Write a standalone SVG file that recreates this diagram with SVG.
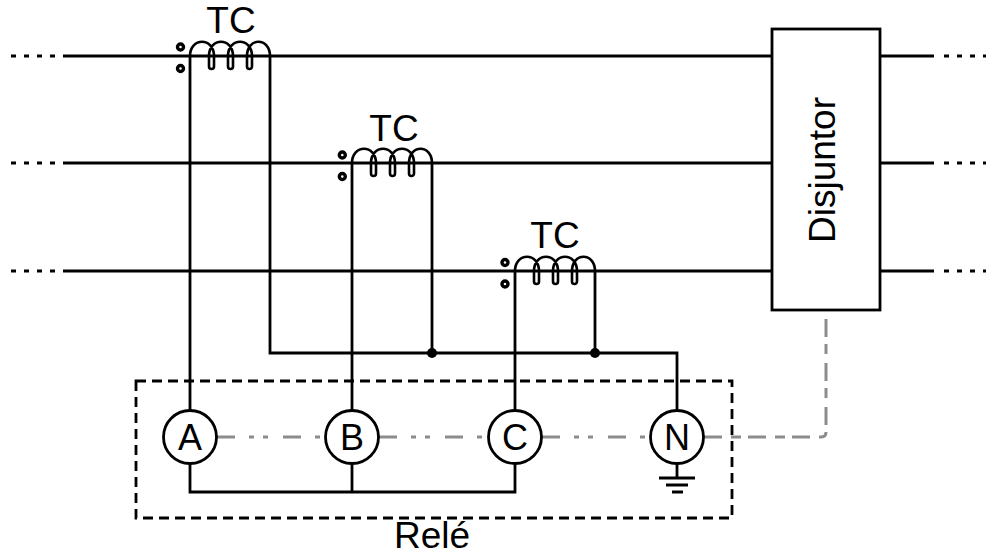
<svg xmlns="http://www.w3.org/2000/svg" width="986" height="557" viewBox="0 0 986 557">
<defs>
<style>
.w{stroke:#000;stroke-width:2.8;fill:none;stroke-linecap:butt}
.dl{stroke:#000;stroke-width:2.8;fill:none;stroke-dasharray:5 8}
.coil{stroke:#000;stroke-width:2.6;fill:none}
.dot{fill:#fff;stroke:#000;stroke-width:3.4}
.jn{fill:#000}
.meter{fill:#fff;stroke:#000;stroke-width:2.8}
.gdd{stroke:#8c8c8c;stroke-width:3;fill:none;stroke-dasharray:18 14 5 9 5 15}
.gd{stroke:#8c8c8c;stroke-width:3;fill:none;stroke-dasharray:18 9 10 7}
.box{stroke:#000;stroke-width:2.8;fill:none;stroke-dasharray:10 6}
.t{font-family:"Liberation Sans",Arial,sans-serif;font-size:37px;fill:#000;text-anchor:middle}
.ml{font-family:"Liberation Sans",Arial,sans-serif;font-size:36px;fill:#000;text-anchor:middle}
</style>
<path id="coilshape" d="M0,0 C0,-19 24,-19 24,0 L24,10.5 A2.5,2.5 0 0 1 19,10.5 L19,0 C19,-19 43,-19 43,0 L43,10.5 A2.5,2.5 0 0 1 38,10.5 L38,0 C38,-19 62,-19 62,0 L62,10.5 A2.5,2.5 0 0 1 57,10.5 L57,0 C57,-19 80,-19 80,0"/>
</defs>
<rect width="986" height="557" fill="#fff"/>

<g id="connectors">
  <line class="dl" x1="11" y1="56" x2="58" y2="56"/>
  <line class="dl" x1="11" y1="163" x2="58" y2="163"/>
  <line class="dl" x1="11" y1="271" x2="58" y2="271"/>
  <line class="w" x1="63" y1="56" x2="772" y2="56"/>
  <line class="w" x1="63" y1="163" x2="772" y2="163"/>
  <line class="w" x1="63" y1="271" x2="772" y2="271"/>
  <line class="w" x1="880" y1="56" x2="934" y2="56"/>
  <line class="w" x1="880" y1="163" x2="934" y2="163"/>
  <line class="w" x1="880" y1="271" x2="934" y2="271"/>
  <line class="dl" x1="944" y1="56" x2="986" y2="56"/>
  <line class="dl" x1="944" y1="163" x2="986" y2="163"/>
  <line class="dl" x1="944" y1="271" x2="986" y2="271"/>
  <line class="w" x1="190" y1="56" x2="190" y2="411"/>
  <line class="w" x1="352" y1="163" x2="352" y2="411"/>
  <line class="w" x1="515" y1="271" x2="515" y2="411"/>
  <polyline class="w" points="270,56 270,353 677,353 677,411"/>
  <line class="w" x1="432" y1="163" x2="432" y2="353"/>
  <line class="w" x1="595" y1="271" x2="595" y2="353"/>
  <circle class="jn" cx="432" cy="353" r="5"/>
  <circle class="jn" cx="595" cy="353" r="5"/>
  <polyline class="w" points="190,463 190,492 515,492 515,463"/>
  <line class="w" x1="352" y1="463" x2="352" y2="492"/>
  <line class="w" x1="677" y1="463" x2="677" y2="478"/>
  <line class="w" x1="659" y1="478" x2="695" y2="478" style="stroke-width:3"/>
  <line class="w" x1="666" y1="485" x2="688" y2="485" style="stroke-width:3"/>
  <line class="w" x1="672" y1="492" x2="683" y2="492" style="stroke-width:3"/>
  <line class="gdd" x1="217" y1="437" x2="325" y2="437"/>
  <line class="gdd" x1="379" y1="437" x2="488" y2="437"/>
  <line class="gdd" x1="542" y1="437" x2="650" y2="437"/>
  <path class="gd" d="M704,437 L821,437 Q826,437 826,432 L826,312"/>
</g>

<g id="relay-box">
  <rect class="box" x="136" y="381" width="596" height="137"/>
  <text class="t" x="432" y="548">Relé</text>
</g>

<g id="ct-a">
  <use href="#coilshape" class="coil" transform="translate(190,56)"/>
  <circle class="dot" cx="180.5" cy="47" r="3"/>
  <circle class="dot" cx="180.5" cy="68.5" r="3"/>
  <text class="t" x="231" y="33">TC</text>
</g>
<g id="ct-b">
  <use href="#coilshape" class="coil" transform="translate(352,163)"/>
  <circle class="dot" cx="342.3" cy="155" r="3"/>
  <circle class="dot" cx="342.3" cy="176.5" r="3"/>
  <text class="t" x="394" y="141">TC</text>
</g>
<g id="ct-c">
  <use href="#coilshape" class="coil" transform="translate(515,271)"/>
  <circle class="dot" cx="505" cy="262.5" r="3"/>
  <circle class="dot" cx="505" cy="284" r="3"/>
  <text class="t" x="555" y="248">TC</text>
</g>

<g id="breaker">
  <rect x="772" y="29" width="108" height="281" fill="#fff" stroke="#000" stroke-width="2.8"/>
  <text class="t" transform="translate(835,170) rotate(-90)" x="0" y="0">Disjuntor</text>
</g>

<g id="meter-a">
  <circle class="meter" cx="190" cy="437" r="26.5"/>
  <text class="ml" x="190" y="450">A</text>
</g>
<g id="meter-b">
  <circle class="meter" cx="352" cy="437" r="26.5"/>
  <text class="ml" x="352" y="450">B</text>
</g>
<g id="meter-c">
  <circle class="meter" cx="515" cy="437" r="26.5"/>
  <text class="ml" x="515" y="450">C</text>
</g>
<g id="meter-n">
  <circle class="meter" cx="677" cy="437" r="26.5"/>
  <text class="ml" x="677" y="450">N</text>
</g>
</svg>
